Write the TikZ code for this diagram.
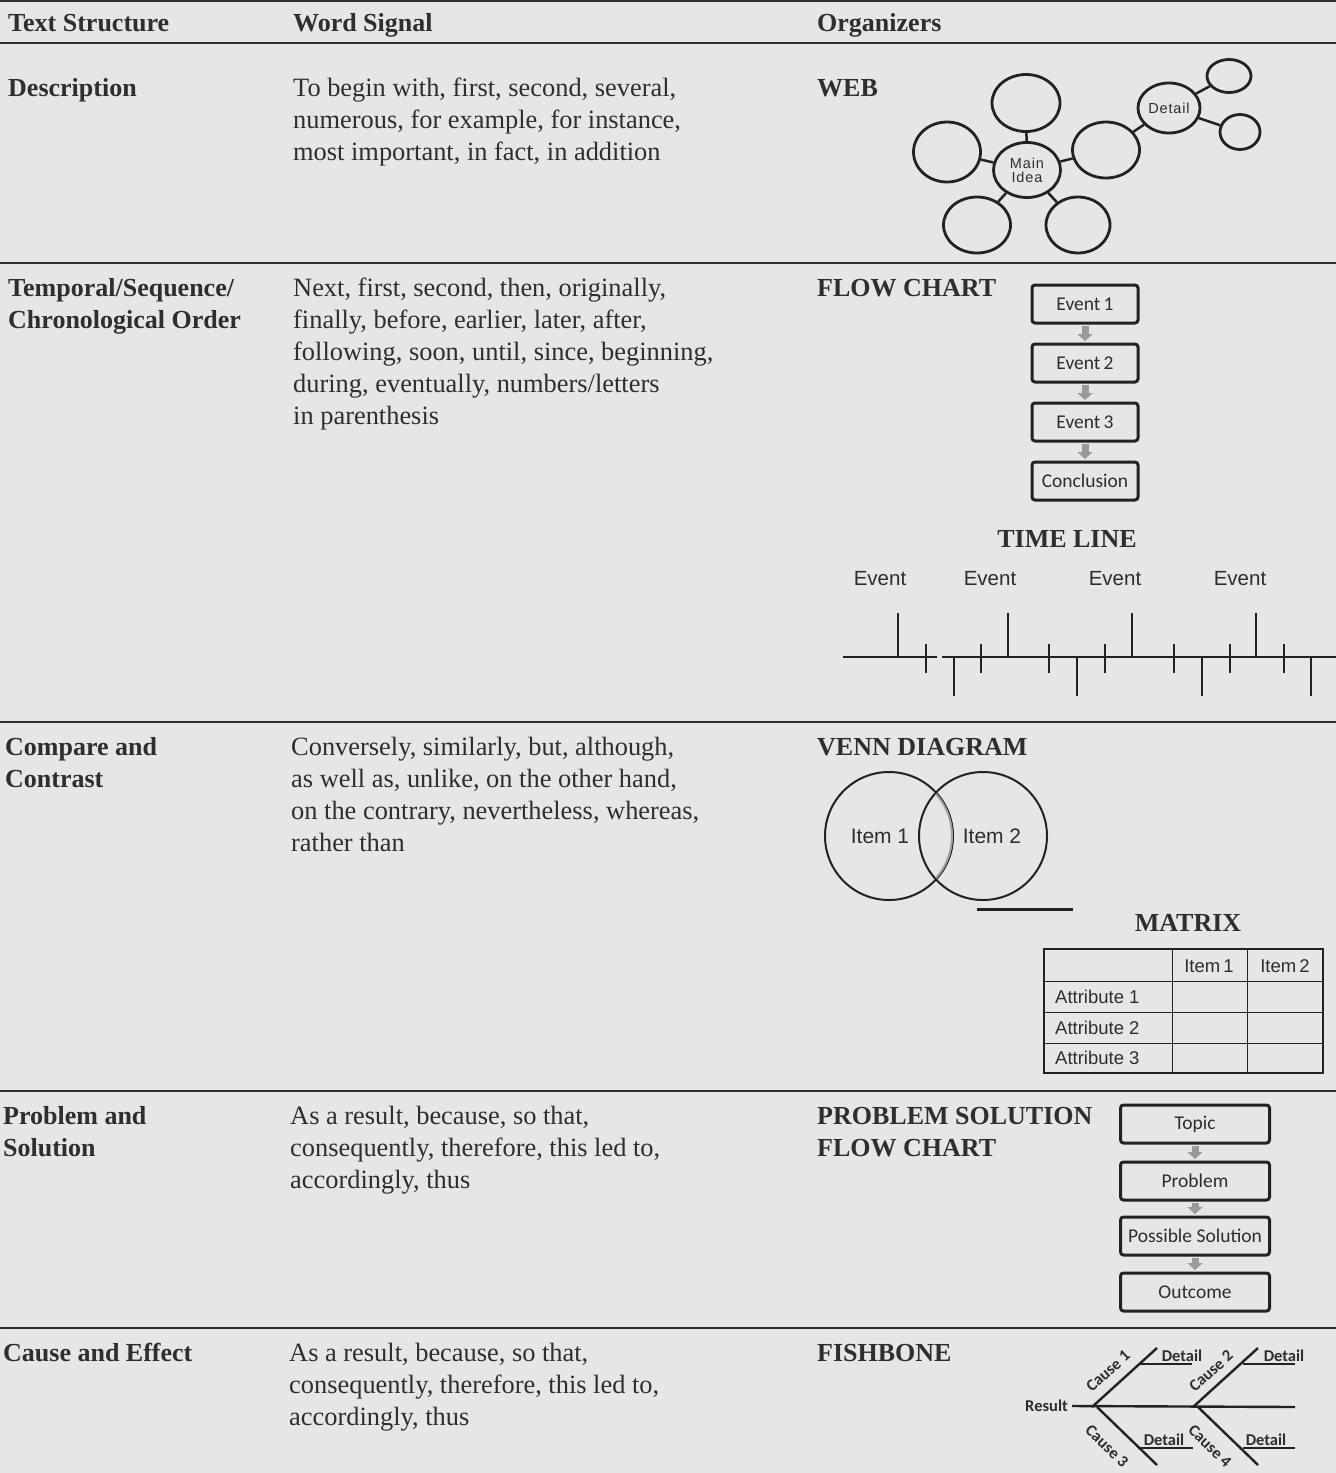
\documentclass[tikz,border=0pt]{standalone}
\usepackage{fontspec}
\setmainfont{Liberation Serif}
\newfontfamily\arialf{Liberation Sans}
\newfontfamily\calibf{Carlito}
\newfontfamily\webf[LetterSpace=6]{Liberation Sans}
\usetikzlibrary{shapes.geometric,arrows.meta}
\definecolor{bg}{HTML}{E6E6E6}
\definecolor{txt}{HTML}{2E2E2E}
\definecolor{ink}{HTML}{222222}
\definecolor{arrowgray}{HTML}{9A9A9A}
\tikzset{
  body/.style={anchor=base west, inner sep=0pt, text=txt, font=\fontsize{26.4}{32}\selectfont},
  head/.style={anchor=base west, inner sep=0pt, text=txt, font=\bfseries\fontsize{26}{32}\selectfont},
  headc/.style={anchor=base, inner sep=0pt, text=txt, font=\bfseries\fontsize{26}{32}\selectfont},
  rule/.style={draw=txt, line width=2pt},
  webell/.style={ellipse, draw=ink, line width=2.8pt, inner sep=0pt, text=txt, font=\webf\fontsize{14.5}{16}\selectfont, align=center},
  webline/.style={draw=ink, line width=2.5pt},
  fbox/.style={draw=ink, line width=3pt, rounded corners=3pt, minimum width=106pt, minimum height=38pt, inner sep=0pt, text=txt, font=\calibf\fontsize{19.5}{22}\selectfont},
  pbox/.style={fbox, minimum width=149pt},
  garrow/.style={draw=arrowgray, line width=7pt, -{Triangle[width=15pt,length=7pt]}, shorten <=1pt, shorten >=1.5pt},
  tl/.style={draw=ink, line width=2pt},
  evt/.style={inner sep=0pt, text=txt, font=\arialf\fontsize{20.5}{24}\selectfont},
  venn/.style={circle, draw=ink, line width=2pt, minimum size=128pt, inner sep=0pt},
  mtxt/.style={inner sep=0pt, text=txt, font=\arialf\fontsize{18.5}{22}\selectfont},
  fish/.style={draw=ink, line width=2.4pt},
  fisht/.style={inner sep=0pt, text=txt, font=\calibf\bfseries\fontsize{16.5}{19}\selectfont},
}
\begin{document}
\begin{tikzpicture}[x=1pt,y=-1pt]
\fill[bg] (0,0) rectangle (1336,1473);
\useasboundingbox (0,0) rectangle (1336,1473);

% rules
\draw[rule] (0,1) -- (1336,1);
\draw[rule] (0,43) -- (1336,43);
\draw[rule] (0,263) -- (1336,263);
\draw[rule] (0,722) -- (1336,722);
\draw[rule] (0,1091) -- (1336,1091);
\draw[rule] (0,1328) -- (1336,1328);

% header
\node[head] (h1) at (8,31) {Text Structure};
\node[head] (h2) at (293,31) {Word Signal};
\node[head] (h3) at (817,31) {Organizers};

% row 1
\node[head] (r1a) at (8,96) {Description};
\node[body] (r1b1) at (293,96) {To begin with, first, second, several,};
\node[body] (r1b2) at (293,128) {numerous, for example, for instance,};
\node[body] (r1b3) at (293,160) {most important, in fact, in addition};
\node[head] (r1c) at (817,96) {WEB};

% web
\node[webell, minimum width=67pt, minimum height=55pt] (mi) at (1027,170) {Main\\[-2pt]Idea};
\node[webell, minimum width=68pt, minimum height=57pt] (wt) at (1026,103) {};
\node[webell, minimum width=67pt, minimum height=60pt] (wl) at (947,152) {};
\node[webell, minimum width=67pt, minimum height=56pt] (wbl) at (977,225) {};
\node[webell, minimum width=64pt, minimum height=56pt] (wbr) at (1078,225) {};
\node[webell, minimum width=67pt, minimum height=56pt] (wr) at (1106,150) {};
\node[webell, minimum width=62pt, minimum height=50pt] (det) at (1169,108) {Detail};
\node[webell, minimum width=44pt, minimum height=33pt] (ws1) at (1229,76) {};
\node[webell, minimum width=40pt, minimum height=35pt] (ws2) at (1240,132) {};
\draw[webline] (mi) -- (wt);
\draw[webline] (mi) -- (wl);
\draw[webline] (mi) -- (wbl);
\draw[webline] (mi) -- (wbr);
\draw[webline] (mi) -- (wr);
\draw[webline] (wr) -- (det);
\draw[webline] (det) -- (ws1);
\draw[webline] (det) -- (ws2);

% row 2
\node[head] (r2a1) at (8,296) {Temporal/Sequence/};
\node[head] (r2a2) at (8,328) {Chronological Order};
\node[body] (r2b1) at (293,296) {Next, first, second, then, originally,};
\node[body] (r2b2) at (293,328) {finally, before, earlier, later, after,};
\node[body] (r2b3) at (293,360) {following, soon, until, since, beginning,};
\node[body] (r2b4) at (293,392) {during, eventually, numbers/letters};
\node[body] (r2b5) at (293,424) {in parenthesis};
\node[head] (r2c) at (817,296) {FLOW CHART};

% flow chart
\node[fbox] (e1) at (1085,304) {Event\,1};
\node[fbox] (e2) at (1085,363) {Event\,2};
\node[fbox] (e3) at (1085,422) {Event\,3};
\node[fbox] (e4) at (1085,481) {Conclusion};
\draw[garrow] (e1) -- (e2);
\draw[garrow] (e2) -- (e3);
\draw[garrow] (e3) -- (e4);

% time line
\node[headc] (tlh) at (1067,547) {TIME LINE};
\node[evt] (ev1) at (880,579) {Event};
\node[evt] (ev2) at (990,579) {Event};
\node[evt] (ev3) at (1115,579) {Event};
\node[evt] (ev4) at (1240,579) {Event};
\draw[tl] (843,657) -- (937,657);
\draw[tl] (942,657) -- (1336,657);
\foreach \x in {898,1008,1132,1256} \draw[tl] (\x,613) -- (\x,657);
\foreach \x in {926,981,1049,1105,1174,1230,1284} \draw[tl] (\x,644) -- (\x,673);
\foreach \x in {954,1077,1202,1311} \draw[tl] (\x,657) -- (\x,696);

% row 3
\node[head] (r3a1) at (5,755) {Compare and};
\node[head] (r3a2) at (5,787) {Contrast};
\node[body] (r3b1) at (291,755) {Conversely, similarly, but, although,};
\node[body] (r3b2) at (291,787) {as well as, unlike, on the other hand,};
\node[body] (r3b3) at (291,819) {on the contrary, nevertheless, whereas,};
\node[body] (r3b4) at (291,851) {rather than};
\node[head] (r3c) at (817,755) {VENN DIAGRAM};

% venn
\node[venn] (v1) at (889,836) {};
\node[venn] (v2) at (983,836) {};
\begin{scope}
  \clip (v2.center) circle (63pt);
  \draw[draw=gray!75, line width=2pt] (v1.center) circle (63pt);
\end{scope}
\node[evt, font=\arialf\fontsize{21}{24}\selectfont] (i1) at (880,836) {Item 1};
\node[evt, font=\arialf\fontsize{21}{24}\selectfont] (i2) at (992,836) {Item 2};
\coordinate (ul1) at (977,909);
\coordinate (ul2) at (1073,909);
\draw[draw=ink, line width=3pt] (ul1) -- (ul2);

% matrix
\node[headc] (mh) at (1188,931) {MATRIX};
\draw[draw=ink, line width=2pt] (1044,949) rectangle (1323,1073);
\draw[draw=ink, line width=1pt] (1172,949) -- (1172,1073);
\draw[draw=ink, line width=1pt] (1247,949) -- (1247,1073);
\draw[draw=ink, line width=1pt] (1044,981) -- (1323,981);
\draw[draw=ink, line width=1pt] (1044,1012) -- (1323,1012);
\draw[draw=ink, line width=1pt] (1044,1043) -- (1323,1043);
\node[mtxt] (m1) at (1209,966) {Item\,1};
\node[mtxt] (m2) at (1285,966) {Item\,2};
\node[mtxt, anchor=west] (a1) at (1055,997) {Attribute 1};
\node[mtxt, anchor=west] (a2) at (1055,1028) {Attribute 2};
\node[mtxt, anchor=west] (a3) at (1055,1058) {Attribute 3};

% row 4
\node[head] (r4a1) at (3,1124) {Problem and};
\node[head] (r4a2) at (3,1156) {Solution};
\node[body] (r4b1) at (290,1124) {As a result, because, so that,};
\node[body] (r4b2) at (290,1156) {consequently, therefore, this led to,};
\node[body] (r4b3) at (290,1188) {accordingly, thus};
\node[head] (r4c1) at (817,1124) {PROBLEM SOLUTION};
\node[head] (r4c2) at (817,1156) {FLOW CHART};

\node[pbox] (p1) at (1195,1124) {Topic};
\node[pbox] (p2) at (1195,1181) {Problem};
\node[pbox] (p3) at (1195,1236) {Possible Solution};
\node[pbox] (p4) at (1195,1292) {Outcome};
\draw[garrow] (p1) -- (p2);
\draw[garrow] (p2) -- (p3);
\draw[garrow] (p3) -- (p4);

% row 5
\node[head] (r5a) at (3,1361) {Cause and Effect};
\node[body] (r5b1) at (289,1361) {As a result, because, so that,};
\node[body] (r5b2) at (289,1393) {consequently, therefore, this led to,};
\node[body] (r5b3) at (289,1425) {accordingly, thus};
\node[head] (r5c) at (817,1361) {FISHBONE};

% fishbone
\node[fisht, anchor=east] (res) at (1068,1406) {Result};
\coordinate (spE) at (1295,1407);
\draw[fish] (res.east) ++(4pt,0) coordinate (spS) (spS) -- (spE);
\coordinate (b1s) at (1092,1407); \coordinate (b1e) at (1157,1348);
\coordinate (b2s) at (1193,1407); \coordinate (b2e) at (1258,1348);
\coordinate (b3s) at (1097,1407); \coordinate (b3e) at (1157,1465);
\coordinate (b4s) at (1198,1407); \coordinate (b4e) at (1258,1465);
\draw[fish] (b1s) -- (b1e);
\draw[fish] (b2s) -- (b2e);
\draw[fish] (b3s) -- (b3e);
\draw[fish] (b4s) -- (b4e);
\coordinate (d1s) at (1140,1364); \coordinate (d1e) at (1192,1364);
\coordinate (d2s) at (1243,1364); \coordinate (d2e) at (1295,1364);
\coordinate (d3s) at (1140,1448); \coordinate (d3e) at (1193,1448);
\coordinate (d4s) at (1243,1448); \coordinate (d4e) at (1295,1448);
\draw[fish] (d1s) -- (d1e);
\draw[fish] (d2s) -- (d2e);
\draw[fish] (d3s) -- (d3e);
\draw[fish] (d4s) -- (d4e);
\node[fisht] (dt1) at (1182,1356) {Detail};
\node[fisht] (dt2) at (1284,1356) {Detail};
\node[fisht] (dt3) at (1164,1440) {Detail};
\node[fisht] (dt4) at (1266,1440) {Detail};
\node[fisht, rotate=42] (c1) at (1108,1371) {Cause 1};
\node[fisht, rotate=42] (c2) at (1211,1371) {Cause 2};
\node[fisht, rotate=-44] (c3) at (1107,1446) {Cause 3};
\node[fisht, rotate=-44] (c4) at (1210,1446) {Cause 4};
\end{tikzpicture}
\end{document}
